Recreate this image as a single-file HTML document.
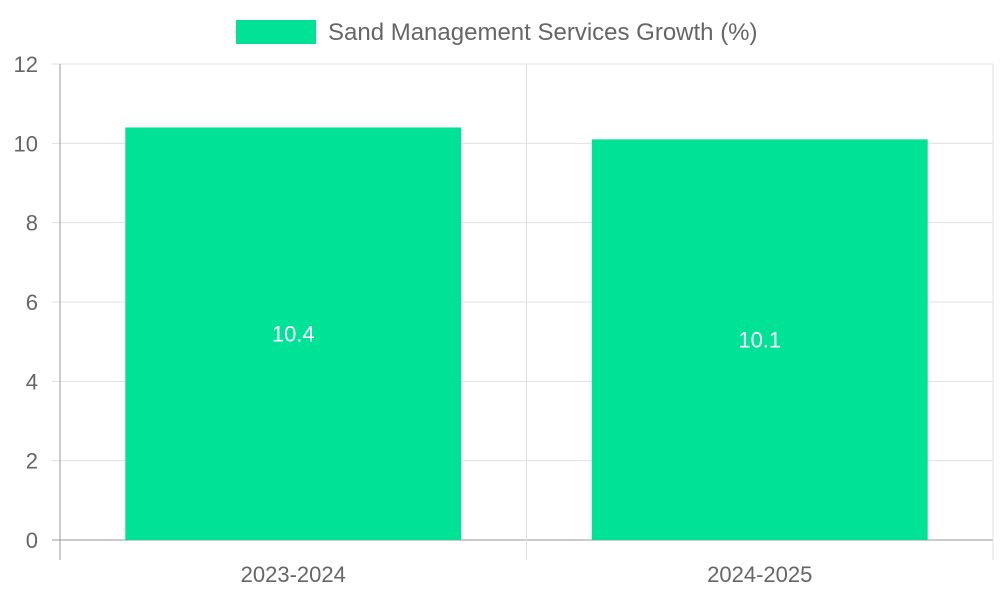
<!DOCTYPE html>
<html><head><meta charset="utf-8"><style>
body{margin:0;background:#fff;}
svg{display:block;font-family:"Liberation Sans",sans-serif;}
</style></head><body>
<svg id="chart" width="1000" height="600">
<rect x="236" y="20" width="80" height="24" fill="#00e396"/>
<text x="328" y="40" font-size="24" fill="#666">Sand Management Services Growth (%)</text>
<g id="grid"></g><g id="bars"></g>
</svg>
<script>
const categories=["2023-2024","2024-2025"];
const values=[10.4,10.1];
const yTicks=[0,2,4,6,8,10,12];
const L=60,R=993,T=64,B=540,yMax=12;
const svg=document.getElementById('chart'),grid=document.getElementById('grid'),bars=document.getElementById('bars');
const NS='http://www.w3.org/2000/svg';
const y=v=>B-(v/yMax)*(B-T);
const cw=(R-L)/categories.length;
const x=i=>L+cw*i;
function mk(tag,attrs,parent){const e=document.createElementNS(NS,tag);for(const k in attrs)e.setAttribute(k,attrs[k]);parent.appendChild(e);return e;}
yTicks.forEach(t=>{
  const ln=mk('line',{x1:L-8,x2:R,y1:y(t),y2:y(t),stroke:t===0?'#999':'#e0e0e0','stroke-width':1},grid);
  
  
  const tx=mk('text',{x:L-22,y:y(t)+8,'font-size':22,fill:'#666','text-anchor':'end'},grid);
  tx.textContent=t;
  
  
});
for(let i=0;i<=categories.length;i++){
  const ln=mk('line',{x1:x(i),x2:x(i),y1:T,y2:B+20,stroke:i===0?'#999':'#e0e0e0','stroke-width':1},grid);
  
  
}
categories.forEach((c,i)=>{
  const bw=cw*0.72,bx=x(i)+(cw-bw)/2,top=y(values[i]);
  const r=mk('rect',{x:bx,y:top,width:bw,height:B-top,fill:'#00e396'},bars);
  
  
  const v=mk('text',{x:bx+bw/2,y:(top+B)/2+8,'font-size':22,fill:'#fff','text-anchor':'middle'},bars);
  v.textContent=values[i];
  
  
  const l=mk('text',{x:x(i)+cw/2,y:582,'font-size':22,fill:'#666','text-anchor':'middle'},bars);
  l.textContent=c;
  
  
});
</script>
</body></html>
